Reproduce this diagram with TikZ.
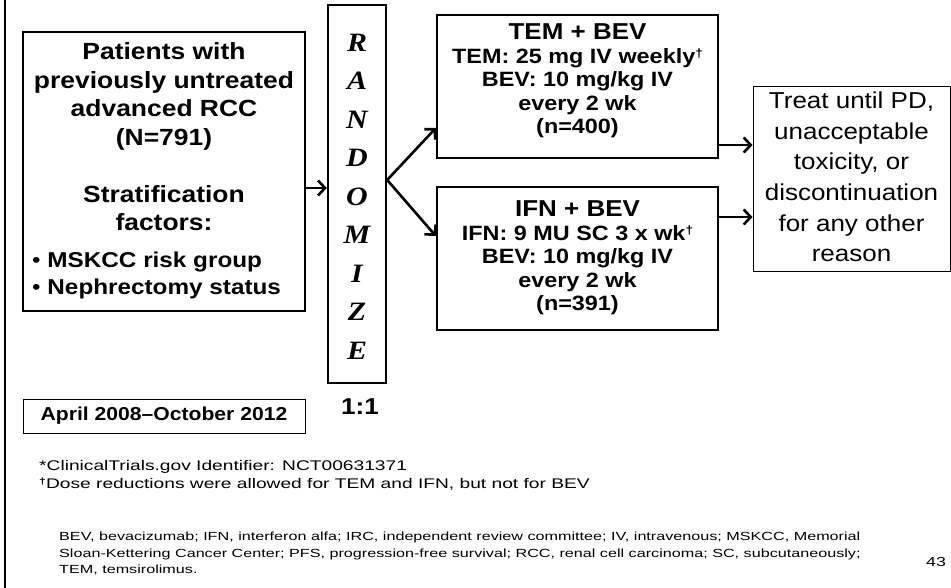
\documentclass[tikz,border=0pt]{standalone}
\usepackage{fontspec}
\setmainfont{Liberation Sans}[FakeStretch=1.13]
\newfontfamily\serifbi{Liberation Serif}[FakeStretch=1.13]
\newfontfamily\footfont{Liberation Sans}[FakeStretch=1.37]
\usetikzlibrary{arrows.meta}
\newcommand{\mydag}{\raisebox{6pt}{\fontsize{12}{12}\selectfont †}}
\begin{document}
\begin{tikzpicture}[x=1pt,y=-1pt,
  thickbox/.style={draw,line width=2.4pt,inner sep=0pt},
  thinbox/.style={draw,line width=1pt,inner sep=0pt},
  arr/.style={line width=2.6pt,-{Straight Barb[length=7pt,width=15pt]}},
  txt/.style={inner sep=0pt,align=center}]
\useasboundingbox (0,0) rectangle (951,588);
\coordinate (lt) at (5,0);
\coordinate (lb) at (5,588);
\draw[line width=2.4pt] (lt) -- (lb);
% boxes
\node[thickbox,minimum width=282pt,minimum height=279pt] (pat) at (164,171.5) {};
\node[thickbox,minimum width=58pt,minimum height=378pt] (rand) at (357,194) {};
\node[thickbox,minimum width=281pt,minimum height=143pt] (tem) at (577.5,86.5) {};
\node[thickbox,minimum width=281pt,minimum height=143pt] (ifn) at (577.5,258.5) {};
\node[thinbox,minimum width=197pt,minimum height=185pt] (res) at (851.5,179.5) {};
\node[thinbox,minimum width=282pt,minimum height=34pt] (date) at (164,416) {};
% texts
\node[txt,font=\bfseries\fontsize{23.4}{28.5}\selectfont] (pattxt) at (164,137)
  {Patients with\\previously untreated\\advanced RCC\\(N=791)\\[28.5pt]Stratification\\factors:};
\node[txt,align=left,anchor=west,font=\bfseries\fontsize{21.5}{27}\selectfont] (strat) at (32,275)
  {{\mdseries\textbullet}\ MSKCC risk group\\{\mdseries\textbullet}\ Nephrectomy status};
\node[txt,font=\serifbi\bfseries\itshape\fontsize{26.5}{38.5}\selectfont] (randtxt) at (357,196.5)
  {R\\A\\N\\D\\O\\M\\I\\Z\\E};
\node[txt,font=\bfseries\fontsize{23}{24}\selectfont] (ratio) at (360,407) {1:1};
\node[txt,font=\bfseries\fontsize{20.7}{23.5}\selectfont] (temtxt) at (577.5,81)
  {{\fontsize{23}{24}\selectfont TEM + BEV}\\TEM: 25 mg IV weekly\mydag\\BEV: 10 mg/kg IV\\every 2 wk\\(n=400)};
\node[txt,font=\bfseries\fontsize{20.7}{23.5}\selectfont] (ifntxt) at (577.5,258)
  {{\fontsize{23}{24}\selectfont IFN + BEV}\\IFN: 9 MU SC 3 x wk\mydag\\BEV: 10 mg/kg IV\\every 2 wk\\(n=391)};
\node[txt,font=\fontsize{23}{30.6}\selectfont] (restxt) at (851.5,177)
  {Treat until PD,\\unacceptable\\toxicity, or\\discontinuation\\for any other\\reason};
\node[txt,font=\bfseries\fontsize{18.7}{20}\selectfont] (datetxt) at (164,416) {April 2008–October 2012};
\node[txt,align=left,anchor=north west,font=\footfont\fontsize{14}{18}\selectfont] (foot) at (39,460)
  {*ClinicalTrials.gov Identifier: NCT00631371\\{\bfseries\raisebox{4pt}{\fontsize{9}{9}\selectfont †}}Dose reductions were allowed for TEM and IFN, but not for BEV};
\node[txt,align=left,anchor=north west,font=\footfont\fontsize{11.8}{16.5}\selectfont] (abbr) at (59,532)
  {BEV, bevacizumab; IFN, interferon alfa; IRC, independent review committee; IV, intravenous; MSKCC, Memorial\\
   Sloan-Kettering Cancer Center; PFS, progression-free survival; RCC, renal cell carcinoma; SC, subcutaneously;\\
   TEM, temsirolimus.};
\node[txt,font=\footfont\fontsize{13}{16}\selectfont] (page) at (936,562) {43};
% arrows
\draw[arr] (pat.east |- 0,188) -- (rand.west |- 0,188);
\draw[arr] (rand.east |- 0,180) -- (tem.west |- 0,128);
\draw[arr] (rand.east |- 0,180) -- (ifn.west |- 0,236);
\draw[arr] (tem.east |- 0,145) -- (res.west |- 0,145);
\draw[arr] (ifn.east |- 0,217) -- (res.west |- 0,217);
\end{tikzpicture}
\end{document}
